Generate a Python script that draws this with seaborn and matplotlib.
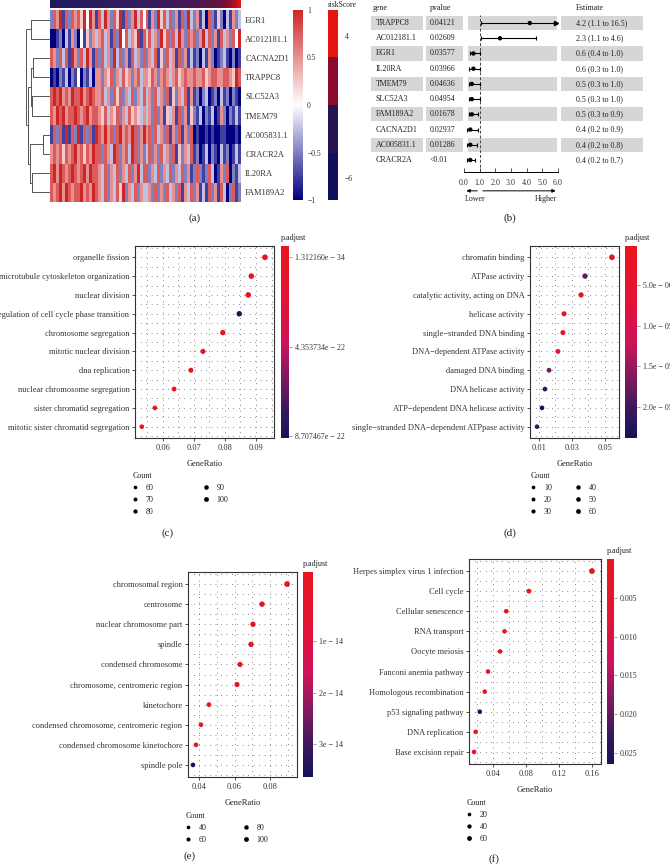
import matplotlib
matplotlib.use("Agg")
import matplotlib.pyplot as plt
from matplotlib.colors import LinearSegmentedColormap, ListedColormap, Normalize
from matplotlib.cm import ScalarMappable
from matplotlib.lines import Line2D
from matplotlib.patches import Rectangle
from matplotlib.transforms import blended_transform_factory
import numpy as np
import pandas as pd
import seaborn as sns

W, H = 670, 864

# ---------------- (a) heatmap data, rows in dendrogram order
heat_genes = ["EGR1", "AC012181.1", "CACNA2D1", "TRAPPC8", "SLC52A3",
              "TMEM79", "AC005831.1", "CRACR2A", "IL20RA", "FAM189A2"]
# scaled expression per sample column, coded 0..8 -> -1..1 (step 0.25)
heat_codes = [
    "2768172767584861" "7386275817268374" "7162857372617283" "2613072152031623",
    "0012031620415263" "6736172847365817" "5736285727386276" "7268372617362748",
    "7627371862738617" "2736283726173627" "2637152736172613" "1203162012310201",
    "0102130214021306" "6265726375626736" "6576267636756766" "7667567766776587",
    "7878676877867876" "6736275726372637" "3627362715263716" "1202301203120210",
    "7687867787678677" "6573657263756536" "3627261536172615" "2130213016202131",
    "1727181728172718" "7686727867687268" "6727362716271627" "0100101001100010",
    "6767576786757687" "7276387267387262" "3726273627152637" "1201302103120131",
    "7868767876786877" "6372637263726837" "7263726372637261" "2721273016270213",
    "7678687677867687" "6372637582637263" "3627262736271637" "2613172617302712",
]
risk_score = [-7.3, -7.0, -6.9, -6.7, -6.6, -6.5, -6.4, -6.3, -6.2, -6.1, -6.0, -5.9, -5.8, -5.7, -5.7, -5.6,
              -5.5, -5.4, -5.3, -5.2, -5.1, -5.0, -4.9, -4.8, -4.7, -4.6, -4.5, -4.4, -4.3, -4.2, -4.1, -4.0,
              -3.9, -3.8, -3.7, -3.6, -3.5, -3.4, -3.3, -3.2, -3.1, -3.0, -2.9, -2.8, -2.7, -2.5, -2.4, -2.3,
              -2.2, -2.0, -1.9, -1.7, -1.5, -1.3, -1.1, -0.9, -0.6, -0.3, 0.2, 0.9, 1.8, 2.9, 4.1, 5.6]
# row clustering merges (cluster a, cluster b, height); new clusters numbered from 10
tree_merges = [(0, 1, 18), (2, 3, 16), (4, 5, 17), (11, 12, 18.5), (6, 7, 6.5),
               (8, 9, 17), (14, 15, 19.5), (13, 16, 21.5), (10, 17, 23)]

# ---------------- (b) forest plot data
fp_genes = ["TRAPPC8", "AC012181.1", "EGR1", "IL20RA", "TMEM79",
            "SLC52A3", "FAM189A2", "CACNA2D1", "AC005831.1", "CRACR2A"]
fp_pvalue = ["0.04121", "0.02609", "0.03577", "0.03966", "0.04636",
             "0.04954", "0.01678", "0.02937", "0.01286", "<0.01"]
fp_hr = [4.2, 2.3, 0.6, 0.6, 0.5, 0.5, 0.5, 0.4, 0.4, 0.4]
fp_lo = [1.1, 1.1, 0.4, 0.3, 0.3, 0.3, 0.3, 0.2, 0.2, 0.2]
fp_hi = [16.5, 4.6, 1.0, 1.0, 1.0, 1.0, 0.9, 0.9, 0.8, 0.7]

# ---------------- (c) GO BP
bp_terms = ["organelle fission", "microtubule cytoskeleton organization", "nuclear division",
            "regulation of cell cycle phase transition", "chromosome segregation",
            "mitotic nuclear division", "dna replication", "nuclear chromosome segregation",
            "sister chromatid segregation", "mitotic sister chromatid segregation"]
bp_ratio = [0.0929, 0.0885, 0.0875, 0.0846, 0.0793, 0.0729, 0.0690, 0.0636, 0.0574, 0.0532]
bp_count = [100, 95, 94, 91, 85, 78, 74, 68, 62, 57]
bp_padj = [1.31216e-34, 2.4e-33, 5.1e-31, 8.707467e-22, 3.3e-30, 1.2e-28, 4.5e-26, 2.1e-29, 6.4e-29, 3.0e-28]

# ---------------- (d) GO MF
mf_terms = ["chromatin binding", "ATPase activity", "catalytic activity, acting on DNA",
            "helicase activity", "single\u2212stranded DNA binding", "DNA\u2212dependent ATPase activity",
            "damaged DNA binding", "DNA helicase activity", "ATP\u2212dependent DNA helicase activity",
            "single\u2212stranded DNA\u2212dependent ATPpase activity"]
mf_ratio = [0.0542, 0.0379, 0.0355, 0.0252, 0.0245, 0.0215, 0.0161, 0.0136, 0.0118, 0.0088]
mf_count = [60, 42, 39, 28, 27, 24, 18, 15, 13, 10]
mf_padj = [1.2e-7, 1.8e-5, 2.1e-6, 1.4e-6, 2.6e-6, 3.1e-6, 1.75e-5, 2.15e-5, 2.39e-5, 2.0e-5]

# ---------------- (e) GO CC
cc_terms = ["chromosomal region", "centrosome", "nuclear chromosome part", "spindle",
            "condensed chromosome", "chromosome, centromeric region", "kinetochore",
            "condensed chromosome, centromeric region", "condensed chromosome kinetochore", "spindle pole"]
cc_ratio = [0.0896, 0.0755, 0.0704, 0.0693, 0.0631, 0.0614, 0.0456, 0.0411, 0.0383, 0.0366]
cc_count = [100, 84, 79, 77, 70, 69, 51, 46, 43, 41]
cc_padj = [1e-20, 4e-18, 2e-19, 5e-18, 3e-19, 6e-18, 2e-17, 7e-17, 1e-16, 3.64e-14]

# ---------------- (f) KEGG
kegg_terms = ["Herpes simplex virus 1 infection", "Cell cycle", "Cellular senescence", "RNA transport",
              "Oocyte meiosis", "Fanconi anemia pathway", "Homologous recombination",
              "p53 signaling pathway", "DNA replication", "Base excision repair"]
kegg_ratio = [0.160, 0.0836, 0.0561, 0.0540, 0.0485, 0.0340, 0.0300, 0.0240, 0.0190, 0.0170]
kegg_count = [60, 31, 21, 20, 18, 13, 11, 9, 7, 6]
kegg_padj = [2e-4, 1e-5, 9e-4, 1.2e-3, 8e-4, 1.5e-3, 6e-4, 0.0264, 7e-4, 1.8e-3]

plt.rcParams["font.family"] = ["Liberation Serif", "DejaVu Serif"]
plt.rcParams["text.color"] = "#222222"
plt.rcParams["axes.labelcolor"] = "#222222"
plt.rcParams["xtick.color"] = "#333333"
plt.rcParams["ytick.color"] = "#333333"

fig = plt.figure(figsize=(W / 100, H / 100), dpi=100)


def px_axes(x0, y0, x1, y1, **kw):
    return fig.add_axes([x0 / W, 1 - y1 / H, (x1 - x0) / W, (y1 - y0) / H], **kw)


def panel_label(x, y, s):
    fig.text(x / W, 1 - y / H, s, ha="center", va="center", fontsize=8)


# ================= (a)
expr_cmap = LinearSegmentedColormap.from_list("expr", ["#000080", "#FFFFFF", "#CD2626"])
risk_cmap = ListedColormap(["#0F0F5C", "#241450", "#8B0B2C", "#E3170F"])
risk_bar_cmap = LinearSegmentedColormap.from_list("riskbar", ["#1C1A5E", "#3B1B5C", "#8B0B2C", "#E3170F"])
risk_norm = Normalize(-7.55, 5.83)

ax_h = px_axes(50, 10, 241, 202)
cax_h = px_axes(293, 10, 303, 200)
expr = pd.DataFrame([[(int(ch) - 4) / 4 for ch in row] for row in heat_codes], index=heat_genes)
sns.heatmap(expr, ax=ax_h, cbar_ax=cax_h, cmap=expr_cmap, vmin=-1, vmax=1,
            xticklabels=False, yticklabels=True)
ax_h.yaxis.tick_right()
ax_h.tick_params(axis="y", length=0, pad=3, labelsize=6, labelrotation=0)
ax_h.set_xlabel("")
ax_h.set_ylabel("")
cb = ax_h.collections[0].colorbar
cb.set_ticks([-1, -0.5, 0, 0.5, 1], labels=["\u22121", "\u22120.5", "0", "0.5", "1"])
cb.outline.set_visible(False)
cax_h.tick_params(length=0, labelsize=5.5, pad=3)

ax_top = px_axes(50, 0, 241, 8)
sns.heatmap(pd.DataFrame([risk_score]), ax=ax_top, cmap=risk_bar_cmap, vmin=risk_norm.vmin,
            vmax=risk_norm.vmax, cbar=False, xticklabels=False, yticklabels=False)

ax_d = px_axes(24, 10, 49, 202)
nodes = {i: (i + 0.5, 0.0) for i in range(len(heat_genes))}
for k, (a, b, h) in enumerate(tree_merges):
    ya, ha = nodes[a]
    yb, hb = nodes[b]
    ax_d.plot([ha, h, h, hb], [ya, ya, yb, yb], color="#555555", lw=0.7, clip_on=False)
    nodes[len(heat_genes) + k] = ((ya + yb) / 2, h)
ax_d.set_xlim(25, 0)
ax_d.set_ylim(10, 0)
ax_d.axis("off")

cax_r = px_axes(328, 10, 338, 200)
cb_r = fig.colorbar(ScalarMappable(norm=risk_norm, cmap=risk_cmap), cax=cax_r)
cb_r.outline.set_visible(False)
cb_r.set_ticks([4, -6], labels=["4", "\u22126"])
cax_r.tick_params(length=0, labelsize=5.5, pad=5)
fig.text(328 / W, 1 - 5 / H, "riskScore", fontsize=5.5, va="center")
panel_label(195, 218, "(a)")

# ================= (b)
ax_bg = fig.add_axes([0, 0, 1, 1], zorder=-1)
ax_bg.set_xlim(0, W)
ax_bg.set_ylim(H, 0)
ax_bg.axis("off")

ax_f = px_axes(464, 15, 558, 172)
ax_f.patch.set_alpha(0)
rows = np.arange(len(fp_genes))
tr = blended_transform_factory(ax_bg.transData, ax_f.transData)
for i in rows[::2]:
    for x0, x1 in [(371, 423), (426, 463), (468, 557), (561, 643)]:
        ax_bg.add_patch(Rectangle((x0, i - 0.47), x1 - x0, 0.94, transform=tr,
                                  facecolor="#D6D6D6", lw=0))
for i in rows:
    ax_bg.text(376, i, fp_genes[i], transform=tr, va="center", fontsize=5.8)
    ax_bg.text(430, i, fp_pvalue[i], transform=tr, va="center", fontsize=5.8)
    ax_bg.text(576, i, f"{fp_hr[i]:.1f} ({fp_lo[i]:.1f} to {fp_hi[i]:.1f})",
               transform=tr, va="center", fontsize=5.8)
for x, s in [(373, "gene"), (430, "pvalue"), (576, "Estimate")]:
    ax_bg.text(x, -0.98, s, transform=tr, va="center", fontsize=5.8)

hi_arr = np.array(fp_hi)
hi_c = np.minimum(hi_arr, 6)
ax_f.axvline(1, color="#444444", ls=(0, (3, 2)), lw=0.7)
ax_f.hlines(rows, fp_lo, hi_c, color="black", lw=0.8)
ax_f.plot(fp_lo, rows, ls="", marker="|", ms=3.5, mew=0.8, color="black", clip_on=False)
ok = hi_arr <= 6
ax_f.plot(hi_arr[ok], rows[ok], ls="", marker="|", ms=3.5, mew=0.8, color="black", clip_on=False)
ax_f.plot(hi_c[~ok] - 0.1, rows[~ok], ls="", marker=">", ms=3, color="black", clip_on=False)
sns.scatterplot(x=fp_hr, y=rows, color="black", s=10, edgecolor="none", ax=ax_f, zorder=3)
ax_f.set_xlim(0, 6)
ax_f.set_ylim(9.79, -0.53)
for s in ["top", "left", "right"]:
    ax_f.spines[s].set_visible(False)
ax_f.spines["bottom"].set_bounds(0, 6)
ax_f.spines["bottom"].set_linewidth(0.7)
ax_f.set_yticks([])
ax_f.set_xticks(range(7), [f"{v:.1f}" for v in range(7)])
ax_f.tick_params(axis="x", direction="in", length=3, width=0.6, labelsize=5.8, pad=5)
arrow = dict(arrowstyle="-|>", color="black", lw=0.7, mutation_scale=5, shrinkA=0, shrinkB=0)
ax_f.annotate("", xy=(0.15, -0.12), xytext=(0.85, -0.12), xycoords=("data", "axes fraction"),
              textcoords=("data", "axes fraction"), arrowprops=arrow, annotation_clip=False)
ax_f.annotate("", xy=(5.85, -0.12), xytext=(1.2, -0.12), xycoords=("data", "axes fraction"),
              textcoords=("data", "axes fraction"), arrowprops=arrow, annotation_clip=False)
ax_f.text(0.7, -0.172, "Lower", transform=blended_transform_factory(ax_f.transData, ax_f.transAxes),
          ha="center", va="center", fontsize=5.8)
ax_f.text(5.23, -0.172, "Higher", transform=blended_transform_factory(ax_f.transData, ax_f.transAxes),
          ha="center", va="center", fontsize=5.8)
panel_label(510, 218, "(b)")

# ================= dot plots
padj_cmap = LinearSegmentedColormap.from_list(
    "padj", [(0, "#E8161B"), (0.3, "#E2123A"), (0.5, "#CC1459"), (0.7, "#7A1A5E"),
             (0.85, "#3A185C"), (1, "#15145A")])


def dotplot(box, cbox, terms, ratio, count, padj, vlim, xlim, xticks, xlabels,
            cticks, clabels, keys, leg_xy, ncol, colsp):
    ax = px_axes(*box)
    n = len(terms)
    df = pd.DataFrame({"GeneRatio": ratio, "row": np.arange(n), "p.adjust": padj, "Count": count})
    norm = Normalize(*vlim)
    sns.scatterplot(data=df, x="GeneRatio", y="row", hue="p.adjust", hue_norm=norm,
                    palette=padj_cmap, size="Count", sizes=(11, 17), size_norm=(keys[0], keys[-1]),
                    edgecolor="none", legend=False, ax=ax, zorder=3)
    ax.set_xlim(*xlim)
    ax.set_ylim(n - 0.4, -0.6)
    ax.set_yticks(np.arange(n), terms)
    ax.set_yticks(np.arange(-0.5, n, 1), minor=True)
    step = xticks[1] - xticks[0]
    minor = [t + step / 2 for t in [xticks[0] - step] + list(xticks)]
    minor = [t for t in minor if xlim[0] < t < xlim[1]]
    ax.set_xticks(xticks, xlabels)
    ax.set_xticks(minor, minor=True)
    ax.grid(which="both", color="#444444", linestyle=(0, (0.6, 5)), linewidth=0.7)
    ax.set_axisbelow(True)
    ax.tick_params(which="major", length=2.5, width=0.6, labelsize=6, pad=1.5)
    ax.tick_params(which="minor", length=0)
    for s in ax.spines.values():
        s.set_color("#333333")
        s.set_linewidth(0.8)
    ax.set_ylabel("")
    ax.set_xlabel("GeneRatio", fontsize=6, labelpad=6)

    cax = px_axes(*cbox)
    cbar = fig.colorbar(ScalarMappable(norm=norm, cmap=padj_cmap), cax=cax)
    cbar.outline.set_visible(False)
    cax.invert_yaxis()
    cbar.set_ticks(cticks, labels=clabels)
    cax.tick_params(length=2, width=0.5, labelsize=5.8, pad=2, color="#777777")
    fig.text(cbox[0] / W, 1 - (cbox[1] - 8) / H, "p.adjust", fontsize=5.8, va="center")

    def msize(c):
        return np.sqrt(7 + 5 * (c - keys[0]) / (keys[-1] - keys[0]))
    handles = [Line2D([], [], ls="", marker="o", color="black", markeredgewidth=0,
                      markersize=msize(k), label=str(k)) for k in keys]
    ax.legend(handles=handles, title="Count", loc="upper left",
              bbox_to_anchor=(leg_xy[0] / W, 1 - leg_xy[1] / H), bbox_transform=fig.transFigure,
              ncol=ncol, frameon=False, fontsize=5.8, title_fontsize=5.8, alignment="left",
              borderpad=0, borderaxespad=0, handlelength=0.6, handletextpad=1.0,
              labelspacing=0.5, columnspacing=colsp)
    return ax


dotplot((135, 246, 274, 438), (281, 246, 289, 438), bp_terms, bp_ratio, bp_count, bp_padj,
        (-5.3e-23, 8.8e-22), (0.0510, 0.0958), [0.06, 0.07, 0.08, 0.09],
        ["0.06", "0.07", "0.08", "0.09"],
        [1.31216e-34, 4.353734e-22, 8.707467e-22],
        ["1.312160e \u2212 34", "4.353734e \u2212 22", "8.707467e \u2212 22"],
        [60, 70, 80, 90, 100], (133, 472), 2, 6.2)
panel_label(168, 533, "(c)")

dotplot((530, 246, 619, 438), (625, 246, 637, 438), mf_terms, mf_ratio, mf_count, mf_padj,
        (1.2e-7, 2.39e-5), (0.00455, 0.0585), [0.01, 0.03, 0.05], ["0.01", "0.03", "0.05"],
        [5e-6, 1e-5, 1.5e-5, 2e-5],
        ["5.0e \u2212 06", "1.0e \u2212 05", "1.5e \u2212 05", "2.0e \u2212 05"],
        [10, 20, 30, 40, 50, 60], (531, 472), 2, 3.0)
panel_label(510, 533, "(d)")

dotplot((188, 572, 297, 777), (303, 572, 313, 777), cc_terms, cc_ratio, cc_count, cc_padj,
        (-3.4e-15, 3.64e-14), (0.0338, 0.0952), [0.04, 0.06, 0.08], ["0.04", "0.06", "0.08"],
        [1e-14, 2e-14, 3e-14], ["1e \u2212 14", "2e \u2212 14", "3e \u2212 14"],
        [40, 60, 80, 100], (186, 812), 2, 4.6)
panel_label(190, 856, "(e)")

dotplot((469, 559, 601, 764), (607, 559, 614, 764), kegg_terms, kegg_ratio, kegg_count, kegg_padj,
        (3e-5, 0.0264), (0.0109, 0.171), [0.04, 0.08, 0.12, 0.16], ["0.04", "0.08", "0.12", "0.16"],
        [0.005, 0.010, 0.015, 0.020, 0.025], ["0.005", "0.010", "0.015", "0.020", "0.025"],
        [20, 40, 60], (467, 799), 1, 2)
panel_label(494, 859, "(f)")

fig.savefig("out.png", dpi=100, facecolor="white")
